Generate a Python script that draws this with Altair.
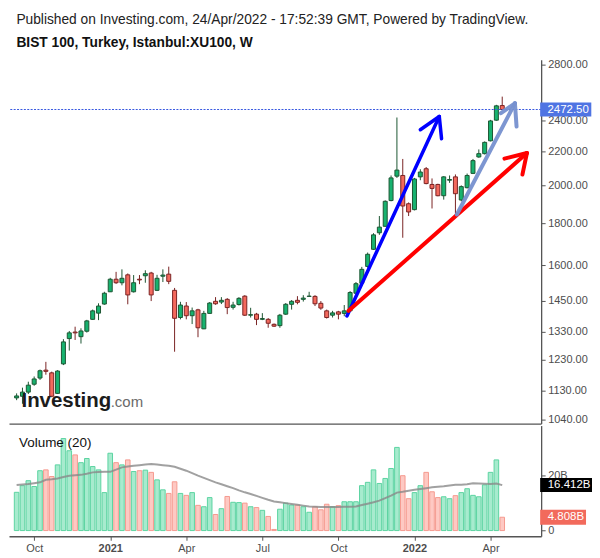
import altair as alt
import pandas as pd
import numpy as np

# ---------------- data ----------------
weeks = pd.date_range("2020-09-14", periods=84, freq="7D").strftime("%Y-%m-%d").tolist()

open_ = [1106, 1111, 1124, 1149, 1169, 1195, 1186, 1120, 1216, 1305,
         1329, 1312, 1332, 1377, 1401, 1437, 1487, 1540, 1525, 1559,
         1487, 1540, 1555, 1567, 1493, 1553, 1562, 1493, 1384, 1429,
         1391, 1414, 1341, 1400, 1448, 1445, 1456, 1424, 1435, 1469,
         1393, 1397, 1377, 1377, 1358, 1353, 1397, 1436, 1452, 1456,
         1468, 1468, 1440, 1410, 1393, 1406, 1400, 1410, 1481, 1523,
         1596, 1674, 1753, 1785, 1918, 2053, 2057, 1901, 1870, 2049,
         2096, 2006, 2006, 1944, 2030, 2049, 1921, 1988, 2069, 2166,
         2186, 2266, 2400, 2500]
high = [1120, 1138, 1157, 1174, 1197, 1223, 1190, 1195, 1303, 1333,
        1349, 1343, 1375, 1415, 1440, 1487, 1546, 1572, 1583, 1565,
        1558, 1558, 1579, 1572, 1559, 1583, 1595, 1503, 1446, 1445,
        1423, 1418, 1410, 1445, 1465, 1465, 1461, 1446, 1465, 1473,
        1422, 1402, 1401, 1382, 1361, 1398, 1441, 1453, 1469, 1473,
        1487, 1473, 1449, 1415, 1410, 1410, 1433, 1490, 1528, 1594,
        1659, 1751, 1837, 1919, 2057, 2418, 2154, 1908, 2043, 2093,
        2106, 2040, 2010, 2053, 2057, 2063, 2001, 2068, 2154, 2212,
        2262, 2402, 2505, 2563]
low = [1099, 1088, 1118, 1144, 1163, 1180, 1108, 1118, 1212, 1262,
       1300, 1287, 1327, 1375, 1374, 1434, 1486, 1520, 1514, 1436,
       1484, 1519, 1525, 1449, 1490, 1528, 1519, 1258, 1377, 1377,
       1359, 1310, 1340, 1399, 1434, 1437, 1397, 1415, 1431, 1390,
       1384, 1355, 1374, 1345, 1348, 1345, 1394, 1415, 1436, 1447,
       1467, 1429, 1414, 1380, 1384, 1377, 1389, 1408, 1480, 1520,
       1590, 1671, 1743, 1784, 1914, 2043, 1729, 1837, 1866, 2030,
       2007, 1876, 1941, 1923, 2015, 1837, 1914, 1984, 2065, 2161,
       2181, 2262, 2396, 2471]
close = [1112, 1124, 1146, 1166, 1193, 1191, 1111, 1192, 1293, 1326,
         1326, 1333, 1371, 1410, 1429, 1481, 1540, 1525, 1544, 1474,
         1525, 1537, 1564, 1474, 1544, 1558, 1531, 1381, 1433, 1391,
         1410, 1345, 1400, 1441, 1438, 1452, 1423, 1433, 1460, 1393,
         1395, 1377, 1380, 1362, 1351, 1393, 1436, 1448, 1444, 1461,
         1469, 1438, 1421, 1384, 1402, 1397, 1410, 1484, 1521, 1583,
         1651, 1743, 1781, 1914, 2043, 2088, 1889, 1858, 2037, 2077,
         2011, 1984, 1944, 2049, 2034, 1955, 1994, 2057, 2144, 2186,
         2256, 2395, 2498, 2472.5]
volume_b = [13.8, 16.2, 18.0, 15.9, 21.6, 21.9, 19.5, 23.7, 33.2, 28.8,
            27.3, 24.5, 26.0, 23.1, 21.9, 13.7, 27.9, 24.5, 23.7, 25.5,
            21.3, 21.6, 21.8, 21.0, 18.3, 14.7, 13.4, 17.6, 13.4, 12.7,
            13.7, 9.1, 8.6, 11.9, 5.8, 7.9, 12.3, 10.2, 10.1, 9.9,
            8.6, 8.3, 7.3, 5.1, 0.4, 7.7, 9.9, 9.2, 9.2, 8.6,
            6.6, 8.6, 7.5, 9.5, 8.6, 9.0, 10.4, 10.4, 10.4, 16.2,
            17.4, 21.9, 17.0, 18.8, 22.4, 30.0, 19.8, 11.5, 13.7, 16.2,
            21.0, 14.0, 11.9, 12.2, 11.5, 12.6, 13.7, 15.1, 12.7, 12.2,
            16.5, 21.0, 25.5, 4.808]
vol_ma20_b = [16.4, 16.6, 16.8, 17.1, 17.4, 18.3, 18.5, 18.8, 19.3, 19.8,
              20.0, 20.1, 20.5, 21.0, 21.1, 21.2, 21.2, 22.0, 22.8, 23.1,
              23.4, 23.6, 23.8, 24.0, 23.8, 23.6, 23.4, 23.0, 22.3, 21.6,
              20.7, 19.8, 19.0, 18.2, 17.4, 16.7, 16.0, 15.3, 14.5, 13.8,
              13.2, 12.5, 11.8, 11.1, 10.5, 10.2, 9.9, 9.6, 9.3, 9.0,
              8.7, 8.6, 8.5, 8.5, 8.5, 8.5, 8.6, 8.6, 8.7, 9.2,
              9.7, 10.2, 10.8, 11.7, 12.6, 13.7, 14.0, 14.4, 14.7, 15.0,
              15.3, 15.6, 15.8, 16.0, 16.3, 16.5, 16.5, 16.7, 17.1, 17.0,
              16.9, 16.8, 17.0, 16.4]

tick_idx = [3, 16, 29, 42, 55, 68, 81]
tick_text = ["Oct", "2021", "Apr", "Jul", "Oct", "2022", "Apr"]
price_ticks = [1040, 1130, 1230, 1330, 1450, 1600, 1800, 2000, 2200, 2400, 2800]
volume_ticks = [0, 20]
last_price = 2472.50
last_vol_ma = 16.412
last_volume = 4.808

# arrows drawn on the chart (bar index, price)
arrow_names = ["blue", "red", "steel"]
arrow_tail_i = [56.46, 56.74, 75.25]
arrow_tail_p = [1390, 1410, 1845]
arrow_tip_i = [72.24, 87.22, 85.17]
arrow_tip_p = [2425, 2190, 2516]
arrow_h1_i = [69.0, 83.38, 82.78]
arrow_h1_p = [2337, 2156, 2447]
arrow_h2_i = [72.63, 86.45, 85.45]
arrow_h2_p = [2279, 2062, 2358]

title1 = "Published on Investing.com, 24/Apr/2022 - 17:52:39 GMT, Powered by TradingView."
title2 = "BIST 100, Turkey, Istanbul:XU100, W"

# ---------------- frames ----------------
df = pd.DataFrame(dict(week=weeks, i=list(range(len(weeks))), open=open_, high=high,
                       low=low, close=close, vol=volume_b, ma=vol_ma20_b))
df["dir"] = np.where(df["close"] >= df["open"], "up", "down")
df["vdir"] = np.where(df["close"] >= df["open"], "vup", "vdown")

seg_rows = []
for k, n in enumerate(arrow_names):
    for (xe, ye) in [(arrow_tail_i[k], arrow_tail_p[k]), (arrow_h1_i[k], arrow_h1_p[k]),
                     (arrow_h2_i[k], arrow_h2_p[k])]:
        seg_rows.append(dict(name=n, x=arrow_tip_i[k], y=arrow_tip_p[k], x2=xe, y2=ye))
arrows = pd.DataFrame(seg_rows)

one = pd.DataFrame({"k": [0]})
lp = pd.DataFrame({"price": [last_price]})

FONT = "Liberation Sans"
W = 533.7
H1 = 365
H2 = 111

GF, GL, RF, RL = "#17b26f", "#1d5633", "#f3695d", "#7a2424"
VGF, VGL, VRF, VRL = "#a7ebce", "#5cd4a2", "#fec9c3", "#f59b90"

xscale = alt.Scale(domain=[-0.45, 88.8], nice=False, zero=False)
pscale = alt.Scale(type="log", domain=[1029.5, 2841.6], nice=False)
vscale = alt.Scale(domain=[-2.05, 37.88], nice=False, zero=False)

common = dict(domainColor="#555555", domainWidth=1.3, tickColor="#555555", tickWidth=1,
              tickSize=4, labelColor="#4d4d4d", labelFont=FONT, labelFontSize=11,
              grid=False, title=None, labelOverlap=False)

x_top_axis = alt.Axis(labels=False, ticks=False, domain=True, domainColor="#555555",
                      domainWidth=1.3, grid=False, title=None)

expr = "''"
for v, t in reversed(list(zip(tick_idx, tick_text))):
    expr = f"datum.value=={v}?'{t}':({expr})"
bold_test = " || ".join(f"datum.value=={v}" for v, t in zip(tick_idx, tick_text) if t.isdigit())
x_bot_axis = alt.Axis(values=tick_idx, labelExpr=expr,
                      labelFontWeight={"condition": {"test": bold_test, "value": "bold"}, "value": "normal"},
                      labelPadding=2, labelFlush=False, **common)
p_axis = alt.Axis(orient="right", values=price_ticks, format=".2f", labelPadding=2.5, **common)
v_axis = alt.Axis(orient="right", values=volume_ticks,
                  labelExpr="datum.value==0?'0':datum.value+'B'", labelPadding=2.5, **common)

def XT(f):
    return alt.X(f, type="quantitative", scale=xscale, axis=x_top_axis)

def YP(f):
    return alt.Y(f, type="quantitative", scale=pscale, axis=p_axis)

def XB(f):
    return alt.X(f, type="quantitative", scale=xscale, axis=x_bot_axis)

def YV(f):
    return alt.Y(f, type="quantitative", scale=vscale, axis=v_axis)

dir_dom = ["up", "down"]
vdir_dom = ["vup", "vdown"]

# ---------------- price pane ----------------
t1 = alt.Chart(one).mark_text(align="left", baseline="middle", fontSize=13.8, font=FONT,
                              color="#222222").encode(x=alt.value(7.4), y=alt.value(-40),
                                                      text=alt.value(title1))
t2 = alt.Chart(one).mark_text(align="left", baseline="middle", fontSize=13.8, font=FONT,
                              fontWeight="bold", color="#111111").encode(
    x=alt.value(7.4), y=alt.value(-17), text=alt.value(title2))

wick = alt.Chart(df).mark_rule(strokeWidth=1).encode(
    x=XT("i"), y=YP("low"), y2="high:Q",
    stroke=alt.Stroke("dir:N", scale=alt.Scale(domain=dir_dom, range=[GL, RL]), legend=None))
body = alt.Chart(df).mark_bar(size=4, strokeWidth=1).encode(
    x=XT("i"), y=YP("open"), y2="close:Q",
    fill=alt.Fill("dir:N", scale=alt.Scale(domain=dir_dom, range=[GF, RF]), legend=None),
    stroke=alt.Stroke("dir:N", scale=alt.Scale(domain=dir_dom, range=[GL, RL]), legend=None))

pline = alt.Chart(lp).mark_rule(color="#3a5ae0", strokeDash=[2, 1.4], strokeWidth=1.1).encode(y=YP("price"))

arrow_style = {"blue": ("#0000ff", 3.5, 1.0), "red": ("#ff0000", 4, 1.0), "steel": ("#7690cf", 4, 0.95)}
arrow_layers = []
for n in arrow_names:
    c, w, o = arrow_style[n]
    arrow_layers.append(
        alt.Chart(arrows[arrows["name"] == n]).mark_rule(color=c, strokeWidth=w, opacity=o,
                                                           strokeCap="round").encode(
            x=XT("x"), x2="x2:Q", y=YP("y"), y2="y2:Q"))

logo1 = alt.Chart(one).mark_text(align="left", baseline="alphabetic", fontSize=20.5, font=FONT,
                                 fontWeight="bold", color="#1c1c1c").encode(
    x=alt.value(12.5), y=alt.value(348.7), text=alt.value("Investing"))
logo2 = alt.Chart(one).mark_text(align="left", baseline="alphabetic", fontSize=15, font=FONT,
                                 color="#6a6a6a").encode(
    x=alt.value(102), y=alt.value(348.7), text=alt.value(".com"))

pbox = alt.Chart(lp).mark_rect(color="#4f74e3", yOffset=-7, y2Offset=7).encode(
    x=alt.value(W - 1), x2=alt.value(W + 50.3), y=YP("price"), y2="price:Q")
ptext = alt.Chart(lp).mark_text(align="left", baseline="middle", color="white", fontSize=11.5,
                                font=FONT).encode(x=alt.value(W + 6.3), y=YP("price"),
                                                  text=alt.value(f"{last_price:.2f}"))

top = alt.layer(t1, t2, wick, body, pline, logo1, logo2, *arrow_layers, pbox, ptext).properties(
    width=W, height=H1)

# ---------------- volume pane ----------------
vbars = alt.Chart(df).mark_bar(size=4.6, strokeWidth=1).encode(
    x=XB("i"), y=YV("vol"), y2=alt.Y2(datum=0),
    fill=alt.Fill("vdir:N", scale=alt.Scale(domain=vdir_dom, range=[VGF, VRF]), legend=None),
    stroke=alt.Stroke("vdir:N", scale=alt.Scale(domain=vdir_dom, range=[VGL, VRL]), legend=None))
ma = alt.Chart(df).mark_line(color="#8a8a8a", strokeWidth=2, opacity=0.8).encode(x=XB("i"), y=YV("ma"))

mav = pd.DataFrame({"v": [last_vol_ma]})
lv = pd.DataFrame({"v": [last_volume]})
mabox = alt.Chart(mav).mark_rect(color="#000000", yOffset=-7, y2Offset=7).encode(
    x=alt.value(W - 1), x2=alt.value(W + 51), y=YV("v"), y2="v:Q")
matext = alt.Chart(mav).mark_text(align="left", baseline="middle", color="white", fontSize=11.5,
                                  font=FONT).encode(x=alt.value(W + 6.6), y=YV("v"),
                                                    text=alt.value(f"{last_vol_ma:.3f}B"))
lvbox = alt.Chart(lv).mark_rect(color="#f26a5c", yOffset=-7.5, y2Offset=7.5).encode(
    x=alt.value(W - 1), x2=alt.value(W + 45), y=YV("v"), y2="v:Q")
lvtext = alt.Chart(lv).mark_text(align="left", baseline="middle", color="white", fontSize=11.5,
                                 font=FONT).encode(x=alt.value(W + 6.6), y=YV("v"),
                                                   text=alt.value(f"{last_volume:.3f}B"))
vlabel = alt.Chart(one).mark_text(align="left", baseline="middle", fontSize=13.5, font=FONT,
                                  color="#111111").encode(x=alt.value(10), y=alt.value(17),
                                                          text=alt.value("Volume (20)"))

bottom = alt.layer(vbars, ma, mabox, matext, lvbox, lvtext, vlabel).properties(width=W, height=H2)

chart = alt.vconcat(top, bottom, spacing=0).resolve_scale(
    fill="independent", stroke="independent"
).properties(
    padding={"left": 0, "top": 4, "right": 0, "bottom": 0},
    background="white",
).configure(font=FONT).configure_view(stroke=None)

chart.save("out.html", embed_options={"renderer": "svg", "actions": False})
